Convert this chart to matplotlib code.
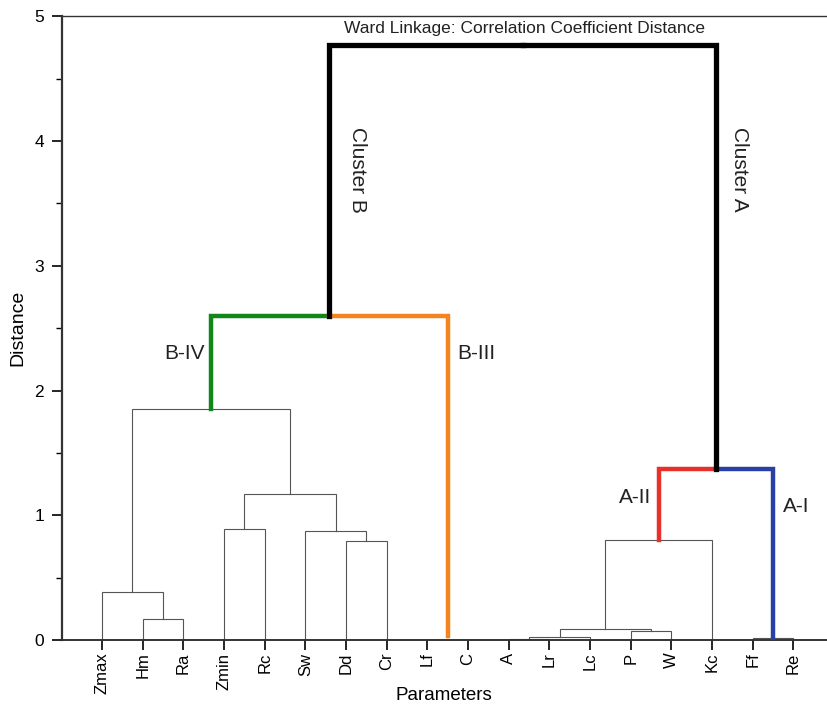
import matplotlib
matplotlib.use("Agg")
import matplotlib.pyplot as plt
from matplotlib.ticker import MultipleLocator

plt.rcParams['font.family'] = ['Liberation Sans', 'DejaVu Sans']

# Leaf labels in dendrogram order
leaves = ["Zmax", "Hm", "Ra", "Zmin", "Rc", "Sw", "Dd", "Cr", "Lf", "C",
          "A", "Lr", "Lc", "P", "W", "Kc", "Ff", "Re"]

# Merges: (child_a, child_b, distance); nodes numbered after the leaves
merge_a = [1, 0, 3, 6, 5, 20, 19, 8, 10, 26, 13, 27, 29, 16, 30, 24, 33]
merge_b = [2, 18, 4, 7, 21, 22, 23, 9, 11, 12, 14, 28, 15, 17, 31, 25, 32]
merge_h = [0.166, 0.382, 0.89, 0.793, 0.876, 1.17, 1.85, 0.03, 0.005, 0.024,
           0.072, 0.088, 0.80, 0.014, 1.37, 2.60, 4.77]

# Branch colours (node -> colour) for highlighted clusters
branch_color = {33: "#000000", 32: "#000000",
                24: "#11861b", 25: "#f5841f",
                30: "#e8302a", 31: "#2a3fa6",
                8: "none", 9: "none"}
branch_lw = {33: 3.8, 32: 3.8, 24: 3.2, 25: 3.2, 30: 3.2, 31: 3.2}

cluster_text = ["Cluster B", "Cluster A", "B-IV", "B-III", "A-II", "A-I"]

fig = plt.figure(figsize=(8.28, 7.08), dpi=100)
ax = fig.add_axes([0.0749, 0.096, 0.925, 0.881])

n = len(leaves)
xpos = {i: i + 1 for i in range(n)}
ypos = {i: 0.0 for i in range(n)}
for k, (a, b, h) in enumerate(zip(merge_a, merge_b, merge_h)):
    node = n + k
    xpos[node] = (xpos[a] + xpos[b]) / 2
    ypos[node] = h
    for child in (a, b):
        c = branch_color.get(child, "#555555")
        lw = branch_lw.get(child, 0.8)
        ax.plot([xpos[child], xpos[child], xpos[node]],
                [ypos[child], h, h], color=c, lw=lw,
                solid_capstyle="projecting", solid_joinstyle="miter",
                zorder=3 if child in branch_lw else 2)

ax.set_xlim(0.017, 18.85)
ax.set_ylim(0, 5)
ax.set_xticks(range(1, n + 1))
ax.set_xticklabels(leaves, rotation=90, fontsize=12)
ax.yaxis.set_major_locator(MultipleLocator(1))
ax.yaxis.set_minor_locator(MultipleLocator(0.5))
ax.tick_params(axis="y", which="major", direction="out", length=7, width=1.2,
               labelsize=12.5, pad=6)
ax.tick_params(axis="y", which="minor", direction="out", length=4, width=1.0)
ax.tick_params(axis="x", direction="out", length=7, width=1.2, pad=2)
ax.spines["right"].set_visible(False)
ax.spines["left"].set_linewidth(1.6)
ax.spines["bottom"].set_linewidth(1.4)
ax.spines["top"].set_linewidth(1.0)
for s in ax.spines.values():
    s.set_color("#333333")

ax.set_xlabel("Parameters", fontsize=13.5)
ax.xaxis.set_label_coords(0.498, -0.089)
ax.xaxis.label.set_verticalalignment("center")
ax.set_ylabel("Distance", fontsize=14, labelpad=6)

ax.text(11.39, 4.90, "Ward Linkage: Correlation Coefficient Distance",
        ha="center", va="center", fontsize=12.5, color="#222222")
ax.text(7.29, 3.77, cluster_text[0], rotation=-90, ha="center", va="center",
        fontsize=15, color="#222222")
ax.text(16.68, 3.77, cluster_text[1], rotation=-90, ha="center", va="center",
        fontsize=15, color="#222222")
ax.text(3.04, 2.30, cluster_text[2], ha="center", va="center", fontsize=15,
        color="#222222")
ax.text(10.21, 2.30, cluster_text[3], ha="center", va="center", fontsize=15,
        color="#222222")
ax.text(14.12, 1.14, cluster_text[4], ha="center", va="center", fontsize=15,
        color="#222222")
ax.text(18.08, 1.07, cluster_text[5], ha="center", va="center", fontsize=15,
        color="#222222")

fig.savefig("out.png", dpi=100)
